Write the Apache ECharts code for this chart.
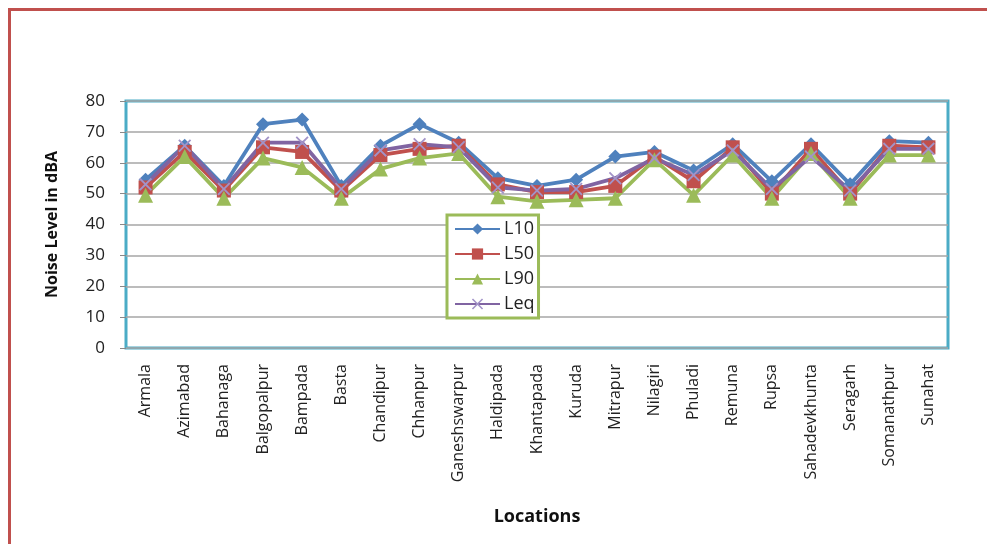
<!DOCTYPE html>
<html>
<head>
<meta charset="utf-8">
<script src="https://cdn.jsdelivr.net/npm/echarts@6/dist/echarts.min.js"></script>
<style>
  html, body { margin: 0; padding: 0; background: #ffffff; }
  #chart { width: 987px; height: 544px; }
</style>
</head>
<body>
<div id="chart"></div>
<script>
// Noise levels (dBA) measured at each location
const locations = ['Armala', 'Azimabad', 'Bahanaga', 'Balgopalpur', 'Bampada', 'Basta', 'Chandipur',
  'Chhanpur', 'Ganeshswarpur', 'Haldipada', 'Khantapada', 'Kuruda', 'Mitrapur', 'Nilagiri', 'Phuladi',
  'Remuna', 'Rupsa', 'Sahadevkhunta', 'Seragarh', 'Somanathpur', 'Sunahat'];

const l10 = [54.5, 65.5, 52.5, 72.5, 74, 52.5, 65.5, 72.5, 66.5, 55, 52.5, 54.5, 62, 63.5, 57.5, 66, 54, 66, 53, 67, 66.5];
const l50 = [52, 63.5, 51, 65, 63.5, 51, 62.5, 64.5, 65.5, 53, 50.5, 50.5, 52.5, 62, 54, 65, 50, 64.5, 50, 65.5, 65];
const l90 = [49.5, 62, 48.5, 61.5, 58.5, 48.5, 58, 61.5, 63, 49, 47.5, 48, 48.5, 61, 49.5, 62.5, 48.5, 63, 48.5, 62.5, 62.5];
const leq = [53, 65.5, 51.5, 66.5, 66.5, 51.5, 64, 66, 65, 52, 51, 51.5, 55, 61.5, 56, 64, 51.5, 62, 51, 64.5, 64.5];

const yTicks = { min: 0, max: 80, interval: 10 };

// Thin "x" drawn as a filled outline so it renders like a stroked cross
const crossSymbol = 'path://M0,1L1,0L5,4L9,0L10,1L6,5L10,9L9,10L5,6L1,10L0,9L4,5Z';

const font = '"Open Sans", "Liberation Sans", sans-serif';

function lineSeries(name, data, color, symbol, size, symbolColor) {
  return {
    name: name,
    type: 'line',
    data: data,
    symbol: symbol,
    symbolSize: size,
    showAllSymbol: true,
    lineStyle: { color: color, width: 3.8 },
    itemStyle: { color: symbolColor || color },
    emphasis: { disabled: true }
  };
}

const chart = echarts.init(document.getElementById('chart'), null, { renderer: 'canvas' });
chart.setOption({
  animation: false,
  backgroundColor: '#ffffff',
  graphic: [{
    type: 'rect',
    shape: { x: 9.5, y: 9.5, width: 1000, height: 560 },
    style: { fill: 'none', stroke: '#c0504d', lineWidth: 3 },
    silent: true,
    z: -10
  }],
  grid: {
    left: 126, top: 101, width: 822, height: 247,
    show: true,
    borderColor: '#4bacc6',
    borderWidth: 3,
    backgroundColor: 'transparent'
  },
  legend: {
    orient: 'vertical',
    left: 447, top: 215,
    padding: [5, 4, 5, 7],
    itemWidth: 45, itemHeight: 14, itemGap: 7,
    borderColor: '#9bbb59', borderWidth: 3,
    backgroundColor: '#ffffff',
    textStyle: { fontFamily: font, fontSize: 18, lineHeight: 18, color: '#222222', padding: [0, 0, 0, -1] },
    data: ['L10', 'L50', 'L90', 'Leq']
  },
  xAxis: {
    type: 'category',
    data: locations,
    boundaryGap: true,
    axisLine: { show: false },
    axisTick: { show: false },
    axisLabel: { rotate: 90, margin: 16, fontFamily: font, fontSize: 16, color: '#222222' },
    name: 'Locations',
    nameLocation: 'middle',
    nameGap: 160,
    nameTextStyle: { fontFamily: font, fontSize: 18, fontWeight: 'bold', color: '#111111' }
  },
  yAxis: {
    type: 'value',
    min: yTicks.min, max: yTicks.max, interval: yTicks.interval,
    axisLine: { show: false },
    axisTick: { show: true, length: 6, lineStyle: { color: '#888888', width: 1 } },
    axisLabel: { margin: 21, fontFamily: font, fontSize: 17, color: '#222222' },
    splitLine: { lineStyle: { color: '#a6a6a6', width: 1.5 } },
    name: 'Noise Level in dBA',
    nameLocation: 'middle',
    nameGap: 66,
    nameTextStyle: { fontFamily: font, fontSize: 16, fontWeight: 'bold', color: '#111111' }
  },
  series: [
    lineSeries('L10', l10, '#4f81bd', 'diamond', 14),
    lineSeries('L50', l50, '#c0504d', 'rect', 14),
    lineSeries('L90', l90, '#9bbb59', 'triangle', 15),
    lineSeries('Leq', leq, '#8064a2', crossSymbol, 13, '#a293c8')
  ]
});
</script>
</body>
</html>
